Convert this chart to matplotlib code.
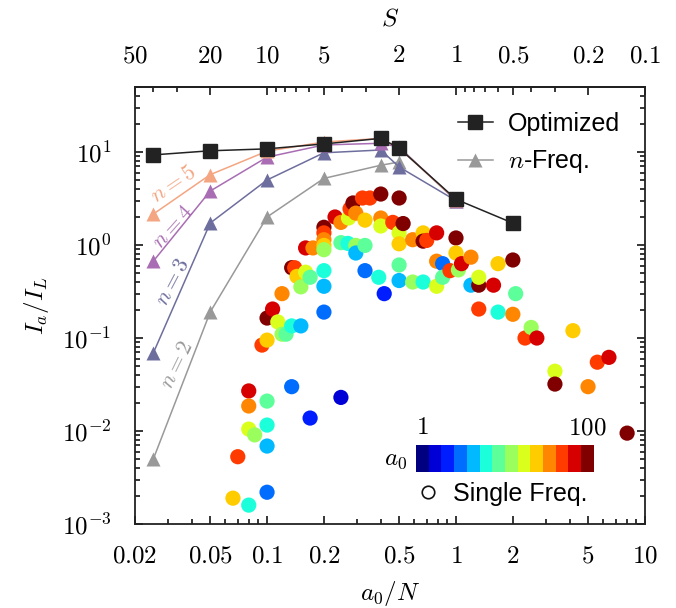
import numpy as np
import matplotlib
matplotlib.use("Agg")
import matplotlib.pyplot as plt
from matplotlib.colors import ListedColormap, Normalize
from matplotlib.cm import ScalarMappable
from matplotlib.lines import Line2D
from matplotlib.ticker import FixedLocator, FuncFormatter, NullFormatter

plt.rcParams["font.family"] = ["Liberation Sans", "DejaVu Sans"]
plt.rcParams["mathtext.fontset"] = "cm"
plt.rcParams["font.size"] = 18

# optimized multi-frequency drive
opt_x = [0.025, 0.05, 0.1, 0.2, 0.4, 0.5, 1, 2]
opt_y = [9.3, 10.3, 10.8, 12.2, 14.0, 11.0, 3.1, 1.72]

# n-frequency drives
nfreq_x = [0.025, 0.05, 0.1, 0.2, 0.4, 0.5, 1]
n5_y = [2.15, 5.7, 10.2, 12.8, 14.0, 11.0, 3.05]
n4_y = [0.67, 3.8, 8.8, 11.9, 12.4, 11.3, 3.0]
n3_y = [0.069, 1.72, 5.0, 9.8, 10.5, 6.9, 3.0]
n2_x = [0.025, 0.05, 0.1, 0.2, 0.4, 0.5]
n2_y = [0.005, 0.19, 2.0, 5.2, 7.2, 7.8]

# single-frequency drives: a0/N, I_a/I_L, a0 level index
A0_LEVELS = [1.0, 1.43, 2.03, 2.90, 4.12, 5.88, 8.38, 11.9, 17.0, 24.2, 34.5, 49.2, 70.2, 100.0]
single_x = [0.066, 0.070, 0.080, 0.080, 0.080, 0.080, 0.086, 0.094,
            0.10, 0.10, 0.10, 0.10, 0.10, 0.10, 0.107, 0.114, 0.12, 0.12,
            0.126, 0.135, 0.14, 0.135, 0.135, 0.144, 0.151, 0.151,
            0.160, 0.160, 0.169, 0.169, 0.175,
            0.2, 0.2, 0.2, 0.2, 0.2, 0.2, 0.2, 0.2,
            0.229, 0.246, 0.246, 0.246, 0.268, 0.27, 0.275, 0.285,
            0.295, 0.295, 0.295, 0.32, 0.33, 0.33, 0.33, 0.35,
            0.39, 0.40, 0.40, 0.40, 0.417, 0.463,
            0.5, 0.5, 0.5, 0.5, 0.5, 0.525, 0.59, 0.59,
            0.67, 0.67, 0.67, 0.70, 0.79, 0.79, 0.79, 0.85, 0.85, 0.93,
            1.0, 1.0, 1.03, 1.07, 1.2, 1.2, 1.32, 1.32, 1.32,
            1.58, 1.67, 1.67, 2.0, 2.0, 2.07, 2.32, 2.5, 2.68,
            3.34, 3.34, 4.16, 5.0, 5.6, 6.45, 8.05]
single_y = [0.0019, 0.0053, 0.027, 0.0186, 0.0105, 0.0016, 0.0091, 0.084,
            0.164, 0.095, 0.021, 0.0116, 0.0069, 0.0022, 0.205, 0.149, 0.30, 0.11,
            0.11, 0.57, 0.57, 0.135, 0.030, 0.46, 0.135, 0.355,
            0.93, 0.51, 0.45, 0.0138, 0.93,
            1.55, 1.35, 1.14, 0.99, 0.89, 0.53, 0.36, 0.19,
            2.0, 1.75, 1.06, 0.023, 1.04, 1.95, 2.45, 2.83,
            0.99, 0.82, 2.2, 3.2, 1.85, 0.99, 0.53, 3.2,
            0.45, 3.53, 1.95, 1.6, 0.30, 1.75,
            3.2, 1.35, 1.03, 0.61, 0.415, 1.7, 1.14, 0.40,
            1.35, 1.10, 0.40, 1.12, 1.35, 0.67, 0.36, 0.63, 0.45, 0.53,
            1.19, 0.82, 0.54, 0.63, 0.74, 0.37, 0.37, 0.45, 0.205,
            0.37, 0.63, 0.19, 0.69, 0.18, 0.30, 0.10, 0.13, 0.10,
            0.044, 0.032, 0.12, 0.030, 0.055, 0.062, 0.0095]
single_level = [9, 11, 12, 10, 8, 5, 7, 11,
                13, 9, 6, 5, 4, 3, 12, 8, 10, 7,
                6, 13, 11, 5, 3, 9, 4, 7,
                12, 8, 6, 2, 10,
                13, 11, 10, 9, 7, 5, 4, 3,
                12, 10, 6, 1, 5, 8, 11, 13,
                7, 4, 10, 11, 9, 6, 3, 11,
                5, 13, 10, 8, 2, 11,
                13, 8, 9, 6, 4, 13, 10, 7,
                9, 13, 5, 11, 12, 10, 8, 3, 6, 11,
                13, 9, 7, 12, 10, 4, 13, 8, 11,
                12, 9, 5, 13, 10, 6, 11, 7, 12,
                8, 13, 9, 10, 11, 12, 13]

n_colors = {5: "#f4a582", 4: "#a96db3", 3: "#6e6e9e", 2: "#999999"}

fig = plt.figure(figsize=(6.76, 6.08), dpi=100)
ax = fig.add_axes([0.1997, 0.138, 0.7543, 0.719])

# single-frequency scatter, coloured by log10(a0) in 14 discrete jet bins
cmap = ListedColormap(plt.cm.jet(np.linspace(0, 1, len(A0_LEVELS))))
norm = Normalize(vmin=-1 / 13, vmax=2 + 1 / 13)
a0 = np.array([A0_LEVELS[i] for i in single_level])
ax.scatter(single_x, single_y, c=np.log10(a0), cmap=cmap, norm=norm,
           s=120, linewidths=0, zorder=2)

lw = 1.1
ax.plot(n2_x, n2_y, "-^", color=n_colors[2], lw=lw, ms=10, mec="none", zorder=3)
ax.plot(nfreq_x, n3_y, "-^", color=n_colors[3], lw=lw, ms=10, mec="none", zorder=3)
ax.plot(nfreq_x, n4_y, "-^", color=n_colors[4], lw=lw, ms=10, mec="none", zorder=3)
ax.plot(nfreq_x, n5_y, "-^", color=n_colors[5], lw=lw, ms=10, mec="none", zorder=3)
ax.plot(opt_x, opt_y, "-s", color="#222222", lw=lw, ms=9.5, zorder=4)

# labels along the n-frequency curves
ax.text(0.0322, 4.5, r"$n=5$", color=n_colors[5], fontsize=16, rotation=34,
        ha="center", va="center")
ax.text(0.0318, 1.56, r"$n=4$", color=n_colors[4], fontsize=16, rotation=48,
        ha="center", va="center")
ax.text(0.0318, 0.40, r"$n=3$", color=n_colors[3], fontsize=16, rotation=62,
        ha="center", va="center")
ax.text(0.0335, 0.051, r"$n=2$", color=n_colors[2], fontsize=16, rotation=64,
        ha="center", va="center")

ax.set_xscale("log")
ax.set_yscale("log")
ax.set_xlim(0.02, 10)
ax.set_ylim(1e-3, 50)

xt = [0.02, 0.05, 0.1, 0.2, 0.5, 1, 2, 5, 10]
ax.xaxis.set_major_locator(FixedLocator(xt))
ax.set_xticklabels([r"$%g$" % v for v in xt])
ax.xaxis.set_minor_formatter(NullFormatter())
ax.yaxis.set_major_formatter(FuncFormatter(lambda v, p: r"$10^{%d}$" % round(np.log10(v))))
ax.tick_params(which="both", direction="in", top=False, right=True, width=1.1)
ax.tick_params(axis="x", which="both", pad=14)
ax.tick_params(axis="y", which="both", pad=17)
ax.tick_params(which="major", length=6)
ax.tick_params(which="minor", length=3.5)
for sp in ax.spines.values():
    sp.set_linewidth(1.3)
    sp.set_color("#222222")

ax.set_xlabel(r"$a_0/N$", labelpad=8)
ax.set_ylabel(r"$I_a/I_L$", labelpad=8)

# top axis: S = N/a0
secax = ax.secondary_xaxis("top", functions=(lambda x: 1 / x, lambda x: 1 / x))
st = [50, 20, 10, 5, 2, 1, 0.5, 0.2, 0.1]
secax.set_xticks(st)
secax.set_xticklabels([r"$%g$" % v for v in st])
secax.xaxis.set_minor_formatter(NullFormatter())
secax.tick_params(which="both", direction="in", pad=14, width=1.1)
secax.tick_params(which="major", length=6)
secax.tick_params(which="minor", length=3.5)
secax.spines["top"].set_linewidth(1.3)
secax.set_xlabel(r"$S$", labelpad=13)

handles = [Line2D([], [], color="#222222", marker="s", ms=9.5, lw=lw),
           Line2D([], [], color=n_colors[2], marker="^", ms=10, mec="none", lw=lw)]
leg1 = ax.legend(handles, ["Optimized", r"$n$-Freq."], loc="upper right",
                 frameon=False, handlelength=1.4, handletextpad=0.6,
                 labelspacing=0.5, borderaxespad=0.6)
ax.add_artist(leg1)

# a0 colour scale
cax = ax.inset_axes([0.551, 0.119, 0.349, 0.062])
cb = fig.colorbar(ScalarMappable(norm=norm, cmap=cmap), cax=cax,
                  orientation="horizontal", ticks=[0, 2])
cb.outline.set_visible(False)
cax.xaxis.set_ticks_position("top")
cax.set_xticklabels([r"$1$", r"$100$"])
cax.tick_params(length=0, pad=4)
cax.text(-0.05, 0.5, r"$a_0$", transform=cax.transAxes, ha="right", va="center")

sf = Line2D([], [], ls="none", marker="o", ms=9, mfc="white", mec="#111111", mew=1.2)
ax.legend([sf], ["Single Freq."], loc="lower left", bbox_to_anchor=(0.505, -0.01),
          frameon=False, handlelength=1.0, handletextpad=0.5)

fig.savefig("out.png", dpi=100)
